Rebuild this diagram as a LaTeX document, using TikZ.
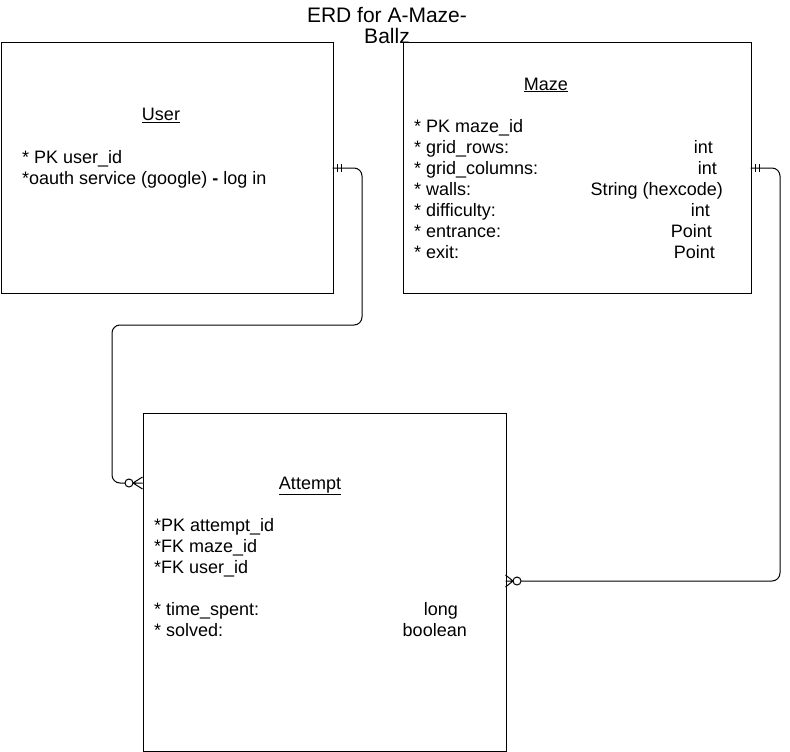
\documentclass[tikz,border=0pt]{standalone}
\usepackage{fontspec}
\setmainfont{Liberation Sans}
\begin{document}
\begin{tikzpicture}[x=1pt,y=-1pt,
  ent/.style={draw=black,line width=1pt,fill=white,anchor=north west,inner sep=0pt},
  txt/.style={inner sep=0pt,font=\fontsize{18}{21}\selectfont,text=black},
  lw/.style={txt,anchor=base west},
  le/.style={txt,anchor=base east},
  lc/.style={txt,anchor=base},
  rel/.style={draw=black,line width=1pt,rounded corners=8pt},
  mk/.style={draw=black,line width=1pt}]
\useasboundingbox (0,0) rectangle (790,752);
% title
\node[lc,font=\fontsize{21}{21}\selectfont] (t1) at (387,23) {ERD for A-Maze-};
\node[lc,font=\fontsize{21}{21}\selectfont] (t2) at (387,44) {Ballz};
% entities
\node[ent,minimum width=332pt,minimum height=250pt] (user) at (0.5,42.5) {};
\node[ent,minimum width=348pt,minimum height=250pt] (maze) at (402.5,42.5) {};
\node[ent,minimum width=363pt,minimum height=338pt] (att) at (142.5,412.5) {};
% user text
\node[lc] (uh) at (161,121) {\underline{User}};
\node[lw] (u1) at (22,163) {* PK user\_id};
\node[lw] (u2) at (22,184) {*oauth service (google) \textbf{-} log in};
% maze text
\node[lc] (mh) at (546,90) {\underline{Maze}};
\node[lw] (m1) at (414,132) {* PK maze\_id};
\node[lw] (m2) at (414,153) {* grid\_rows:};
\node[lw] (m3) at (414,174) {* grid\_columns:};
\node[lw] (m4) at (414,195) {* walls:};
\node[lw] (m5) at (414,216) {* difficulty:};
\node[lw] (m6) at (414,237) {* entrance:};
\node[lw] (m7) at (414,258) {* exit:};
\node[le] (r2) at (713,153) {int};
\node[le] (r3) at (717,174) {int};
\node[le] (r4) at (723,195) {String (hexcode)};
\node[le] (r5) at (710,216) {int};
\node[le] (r6) at (712,237) {Point};
\node[le] (r7) at (715,258) {Point};
% attempt text
\node[lc] (ah) at (310,489) {\underline{Attempt}};
\node[lw] (a1) at (154,531) {*PK attempt\_id};
\node[lw] (a2) at (154,552) {*FK maze\_id};
\node[lw] (a3) at (154,573) {*FK user\_id};
\node[lw] (a4) at (154,615) {* time\_spent:};
\node[lw] (a5) at (154,636) {* solved:};
\node[le] (b4) at (458,615) {long};
\node[le] (b5) at (467,636) {boolean};
% connector coordinates
\coordinate (us) at (332.5,168);
\coordinate (ae) at (142.5,483);
\coordinate (ms) at (750.5,168);
\coordinate (ar) at (505.5,581);
% user -> attempt
\draw[rel] (us) -- (362,168) -- (362,325) -- (112,325) -- (112,483) -- (125,483);
\draw[mk] (337,164) -- (337,172) (341,164) -- (341,172);
\draw[mk] (129,483) circle (4);
\draw[mk] (133,483) -- (ae) (133,483) -- (142.5,477) (133,483) -- (142.5,489);
% maze -> attempt
\draw[rel] (ms) -- (780,168) -- (780,581) -- (521,581);
\draw[mk] (755,164) -- (755,172) (759,164) -- (759,172);
\draw[mk] (517,581) circle (4);
\draw[mk] (513,581) -- (ar) (513,581) -- (505.5,575) (513,581) -- (505.5,587);
\end{tikzpicture}
\end{document}
